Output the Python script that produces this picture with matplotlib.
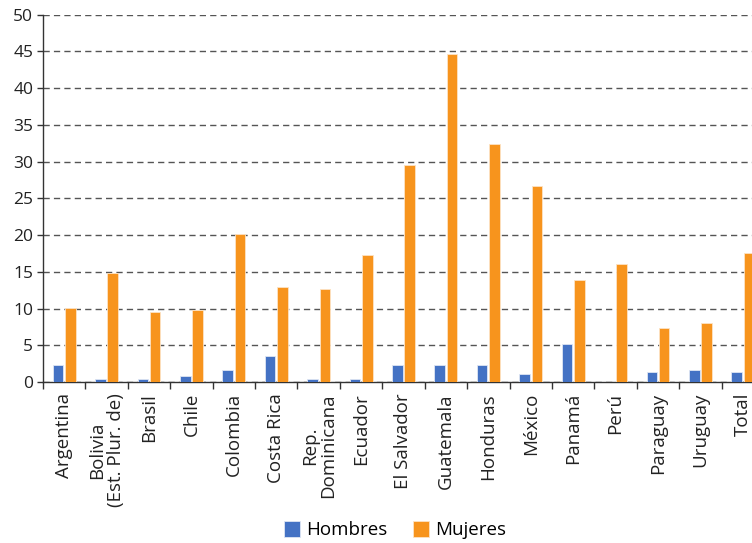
import matplotlib
matplotlib.use("Agg")
import matplotlib.pyplot as plt
import numpy as np

categories = [
    "Argentina", "Bolivia\n(Est. Plur. de)", "Brasil", "Chile", "Colombia",
    "Costa Rica", "Rep.\nDominicana", "Ecuador", "El Salvador", "Guatemala",
    "Honduras", "México", "Panamá", "Perú", "Paraguay", "Uruguay", "Total",
]
hombres = [2.3, 0.45, 0.45, 0.8, 1.7, 3.6, 0.45, 0.45, 2.3, 2.3, 2.3, 1.1, 5.2, 0.0, 1.4, 1.7, 1.4]
mujeres = [10.1, 14.8, 9.5, 9.8, 20.1, 13.0, 12.6, 17.3, 29.6, 44.6, 32.4, 26.7, 13.9, 16.1, 7.3, 8.0, 17.6]
y_ticks = [0, 5, 10, 15, 20, 25, 30, 35, 40, 45, 50]

BLUE = "#4472C4"
ORANGE = "#F7941D"
FONT = "Open Sans"

plt.rcParams["font.family"] = [FONT, "DejaVu Sans"]

W, H = 752, 543
fig = plt.figure(figsize=(W / 100, H / 100), dpi=100)
left, right = 43 / W, 764 / W
bottom, top = (H - 382) / H, (H - 14.7) / H
ax = fig.add_axes([left, bottom, right - left, top - bottom])

x = np.arange(len(categories))
bw = 0.25
gap = 0.02
b1 = ax.bar(x - bw / 2 - gap, hombres, width=bw, color=BLUE, edgecolor="#dfe6f3",
            linewidth=0.6, label="Hombres", zorder=3)
b2 = ax.bar(x + bw / 2 + gap, mujeres, width=bw, color=ORANGE, edgecolor="#fde3c4",
            linewidth=0.6, label="Mujeres", zorder=3)

ax.set_xlim(-0.5, len(categories) - 0.5)
ax.set_ylim(0, 50)
ax.set_yticks(y_ticks)
ax.set_yticklabels([str(v) for v in y_ticks], fontsize=12.5, color="#222222")
ax.tick_params(axis="y", length=4, width=1, color="#333333", pad=3)

# category labels at centres, tick marks at the boundaries
ax.set_xticks(x)
ax.set_xticklabels(categories, rotation=90, fontsize=13.5, color="#222222",
                   ha="center", va="top", multialignment="center",
                   linespacing=1.0)
ax.tick_params(axis="x", which="major", length=0, pad=8)
ax.set_xticks(np.arange(-0.5, len(categories), 1.0), minor=True)
ax.tick_params(axis="x", which="minor", length=5, width=1, color="#333333", direction="out")

ax.yaxis.grid(True, linestyle=(0, (4.5, 3)), color="#555555", linewidth=1.0, zorder=0)
ax.set_axisbelow(True)
for s in ("top", "right"):
    ax.spines[s].set_visible(False)
for s in ("left", "bottom"):
    ax.spines[s].set_color("#333333")
    ax.spines[s].set_linewidth(1.0)

fig.legend(handles=[b1, b2], labels=["Hombres", "Mujeres"], loc="center",
           bbox_to_anchor=(395 / W, (H - 530) / H), ncol=2, frameon=False,
           fontsize=13.5, handlelength=0.85, handleheight=1.0, handletextpad=0.3,
           columnspacing=1.4)

fig.savefig("out.png", dpi=100)
